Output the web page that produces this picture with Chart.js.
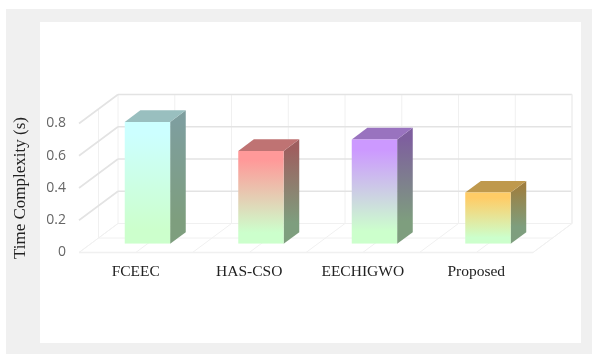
<!DOCTYPE html>
<html>
<head>
<meta charset="utf-8">
<title>Time Complexity</title>
<script src="https://cdn.jsdelivr.net/npm/chart.js"></script>
<style>
  * { margin: 0; padding: 0; box-sizing: border-box; }
  html, body { width: 593px; height: 354px; background: #fff; overflow: hidden; }
  .frame { position: absolute; left: 6px; top: 9px; width: 586px; height: 345px; background: #f0f0f0; }
  .panel { position: absolute; left: 40px; top: 22px; width: 541px; height: 321px; background: #fff; }
  .wrap { position: absolute; left: 0; top: 0; width: 593px; height: 354px; }
</style>
</head>
<body>
<div class="frame"></div>
<div class="panel"></div>
<div class="wrap"><canvas id="chart" width="593" height="354"></canvas></div>
<script>
const categories = ['FCEEC', 'HAS-CSO', 'EECHIGWO', 'Proposed'];
const timeValues = [0.756, 0.576, 0.647, 0.318];
const yTicks = [0, 0.2, 0.4, 0.6, 0.8];
const barTopColors = [[204, 255, 255], [255, 153, 153], [204, 153, 255], [255, 204, 102]];
const barBottomColor = [204, 255, 204];

// 3d depth of the walls, and where the bars sit inside it
const depthX = 39, depthY = -29;
const barStart = 0.3, barEnd = 0.7;

function rgb(c, k) {
  return 'rgb(' + c.map(v => Math.round(v * k)).join(',') + ')';
}

function line(ctx, x1, y1, x2, y2, color, w) {
  ctx.strokeStyle = color;
  ctx.lineWidth = w;
  ctx.beginPath();
  ctx.moveTo(x1, y1);
  ctx.lineTo(x2, y2);
  ctx.stroke();
}

function face(ctx, pts, fill) {
  ctx.fillStyle = fill;
  ctx.beginPath();
  pts.forEach((p, i) => i ? ctx.lineTo(p[0], p[1]) : ctx.moveTo(p[0], p[1]));
  ctx.closePath();
  ctx.fill();
}

const walls3d = {
  id: 'walls3d',
  beforeDatasetsDraw(chart) {
    const { ctx, scales: { x, y } } = chart;
    const left = x.left, right = x.right, bottom = y.bottom, top = y.top;
    const half = (x.getPixelForValue(1) - x.getPixelForValue(0)) / 2;
    const thin = '#f0f0f0', main = '#e3e3e3';
    ctx.save();

    // vertical divisions on back wall and floor, at category edges and centres
    for (let i = 0; i <= categories.length * 2; i++) {
      const px = left + half * i;
      line(ctx, px + depthX, top + depthY, px + depthX, bottom + depthY, thin, 1);
      line(ctx, px, bottom, px + depthX, bottom + depthY, thin, 1);
    }
    // mid depth lines
    line(ctx, left + depthX / 2, bottom + depthY / 2, right + depthX / 2, bottom + depthY / 2, thin, 1);
    line(ctx, left + depthX / 2, top + depthY / 2, left + depthX / 2, bottom + depthY / 2, thin, 1);

    yTicks.forEach(t => {
      const py = y.getPixelForValue(t);
      const color = t === 0 ? thin : main;
      line(ctx, left, py, left + depthX, py + depthY, color, t === 0 ? 1 : 1.6);
      line(ctx, left + depthX, py + depthY, right + depthX, py + depthY, color, t === 0 ? 1 : 1.6);
    });
    line(ctx, left, bottom, right, bottom, thin, 1.5);
    line(ctx, right, bottom, right + depthX, bottom + depthY, thin, 1);
    line(ctx, right + depthX, top + depthY, right + depthX, bottom + depthY, thin, 1.5);

    // side and top faces of the bars, the front face is the real bar element
    const dx0 = depthX * barStart, dy0 = depthY * barStart;
    const dx = depthX * (barEnd - barStart), dy = depthY * (barEnd - barStart);
    chart.getDatasetMeta(0).data.forEach((bar, i) => {
      const l = bar.x - bar.width / 2 + dx0, r = bar.x + bar.width / 2 + dx0;
      const t = bar.y + dy0, b = bar.base + dy0;
      const side = ctx.createLinearGradient(0, t + dy, 0, b + dy);
      side.addColorStop(0.1, rgb(barTopColors[i], 0.62));
      side.addColorStop(0.9, rgb(barBottomColor, 0.62));
      face(ctx, [[r, t], [r + dx, t + dy], [r + dx, b + dy], [r, b]], side);
      face(ctx, [[l, t], [l + dx, t + dy], [r + dx, t + dy], [r, t]], rgb(barTopColors[i], 0.75));
    });
    ctx.restore();

    // front faces are drawn shifted into the middle of the depth
    ctx.save();
    ctx.translate(dx0, dy0);
  },
  afterDatasetsDraw(chart) {
    chart.ctx.restore();
  }
};

new Chart(document.getElementById('chart'), {
  type: 'bar',
  data: {
    labels: categories,
    datasets: [{
      data: timeValues,
      barPercentage: 0.4,
      categoryPercentage: 1,
      borderWidth: 0,
      backgroundColor(c) {
        if (!c.chart.chartArea || c.dataIndex === undefined) return '#ccffcc';
        const yScale = c.chart.scales.y;
        const top = yScale.getPixelForValue(timeValues[c.dataIndex]);
        const g = c.chart.ctx.createLinearGradient(0, top, 0, yScale.getPixelForValue(0));
        g.addColorStop(0.1, rgb(barTopColors[c.dataIndex], 1));
        g.addColorStop(0.88, rgb(barBottomColor, 1));
        return g;
      }
    }]
  },
  options: {
    responsive: false,
    animation: false,
    events: [],
    layout: { padding: { left: 10, right: 60, top: 123.5, bottom: 71.5 } },
    plugins: { legend: { display: false }, tooltip: { enabled: false } },
    scales: {
      x: {
        afterFit: s => { s.height = 30; },
        grid: { display: false },
        border: { display: false },
        ticks: { color: '#222', padding: 2, maxRotation: 0, font: { family: 'Liberation Serif', size: 15.5 } }
      },
      y: {
        min: 0,
        max: 0.8,
        afterFit: s => { s.width = 69; },
        afterBuildTicks: s => { s.ticks = yTicks.map(v => ({ value: v })); },
        grid: { display: false },
        border: { display: false },
        title: { display: true, text: 'Time Complexity (s)', color: '#222', padding: 0, font: { family: 'Liberation Serif', size: 17 } },
        ticks: { color: '#666', padding: 5, font: { family: 'Open Sans', size: 14 } }
      }
    }
  },
  plugins: [walls3d]
});
</script>
</body>
</html>
